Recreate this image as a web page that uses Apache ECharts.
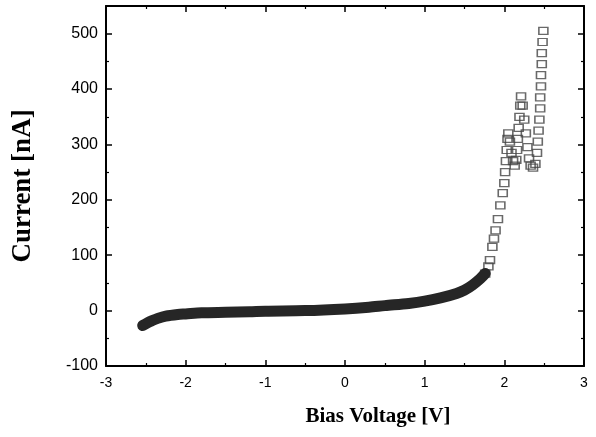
<!DOCTYPE html>
<html>
<head>
<meta charset="utf-8">
<script src="https://cdn.jsdelivr.net/npm/echarts@6/dist/echarts.min.js"></script>
<style>
html,body{margin:0;padding:0;background:#fff;}
#c{width:596px;height:437px;}
</style>
</head>
<body>
<div id="c"></div>
<script>
// Low-bias band (dense overlapping markers) : voltage [V], current [nA]
const bandV = [-2.54, -2.48, -2.42, -2.35, -2.25, -2.1, -2.0, -1.8, -1.5, -1.2, -1.0, -0.5, 0.0, 0.3, 0.5, 0.8, 1.0, 1.2, 1.4, 1.5, 1.6, 1.7, 1.76];
const bandI = [-27, -22, -18, -14, -10, -7, -6, -4, -3, -2, -1, 0, 3, 6, 9, 13, 17, 23, 31, 37, 46, 58, 67];

// High-bias region (individual hollow square markers)
const highV = [1.76, 1.80, 1.82, 1.85, 1.87, 1.89, 1.92, 1.95, 1.98, 2.00, 2.01, 2.02, 2.03, 2.04, 2.05, 2.07, 2.09, 2.11, 2.13, 2.15, 2.16, 2.17, 2.18, 2.19, 2.20, 2.21, 2.23, 2.25, 2.27, 2.29, 2.31, 2.33, 2.36, 2.39, 2.41, 2.42, 2.43, 2.44, 2.45, 2.45, 2.46, 2.46, 2.47, 2.47, 2.48, 2.49];
const highI = [67, 80, 91, 115, 130, 145, 165, 190, 212, 230, 250, 270, 290, 310, 320, 305, 285, 270, 262, 272, 290, 310, 330, 350, 370, 387, 370, 345, 320, 295, 275, 262, 258, 265, 285, 305, 325, 345, 365, 385, 405, 425, 445, 465, 485, 505];

const xTicks = [-3, 3, 1];     // min, max, interval
const yTicks = [-100, 550, 100];

const band = bandV.map((v, i) => [v, bandI[i]]);
const high = highV.map((v, i) => [v, highI[i]]);

const chart = echarts.init(document.getElementById('c'), null, {renderer: 'canvas'});
const axisLine = {show: true, onZero: false, lineStyle: {color: '#000', width: 2}};
const tickIn = {show: true, inside: true, length: 6, lineStyle: {color: '#000', width: 1.5}};
const minorIn = {show: true, splitNumber: 2, length: 3, lineStyle: {color: '#000', width: 1.2}};

chart.setOption({
  animation: false,
  backgroundColor: '#fff',
  grid: {left: 106, right: 12, top: 6, bottom: 71},
  xAxis: [{
    type: 'value', min: xTicks[0], max: xTicks[1], interval: xTicks[2],
    axisLine: axisLine, axisTick: tickIn, minorTick: minorIn,
    splitLine: {show: false},
    axisLabel: {color: '#000', fontSize: 14, fontFamily: 'Liberation Sans, Arial', margin: 10},
    name: 'Bias Voltage [V]', nameLocation: 'middle', nameGap: 40,
    nameTextStyle: {fontFamily: 'Liberation Serif, Times New Roman', fontWeight: 'bold', fontSize: 21, color: '#000', padding: [0, 0, 0, 66]}
  }, {
    type: 'value', position: 'top', min: xTicks[0], max: xTicks[1], interval: xTicks[2],
    axisLine: axisLine, axisTick: tickIn, minorTick: minorIn,
    splitLine: {show: false}, axisLabel: {show: false}
  }],
  yAxis: [{
    type: 'value', min: yTicks[0], max: yTicks[1], interval: yTicks[2],
    axisLine: axisLine, axisTick: tickIn, minorTick: minorIn,
    splitLine: {show: false},
    axisLabel: {color: '#000', fontSize: 16, fontFamily: 'Liberation Sans, Arial', margin: 8, showMaxLabel: false,
      formatter: v => (v > 500 ? '' : String(v))},
    name: 'Current [nA]', nameLocation: 'middle', nameGap: 69,
    nameTextStyle: {fontFamily: 'Liberation Serif, Times New Roman', fontWeight: 'bold', fontSize: 27, color: '#000'}
  }, {
    type: 'value', position: 'right', min: yTicks[0], max: yTicks[1], interval: yTicks[2],
    axisLine: axisLine, axisTick: tickIn, minorTick: minorIn,
    splitLine: {show: false}, axisLabel: {show: false}
  }],
  series: [{
    type: 'line', data: band, showSymbol: false, smooth: 0.3,
    lineStyle: {color: '#262626', width: 11, cap: 'round', join: 'round'},
    xAxisIndex: 0, yAxisIndex: 0, silent: true
  }, {
    type: 'scatter', data: high, symbol: 'rect', symbolSize: [9, 7],
    itemStyle: {color: 'rgba(255,255,255,0)', borderColor: '#444', borderWidth: 1.4},
    xAxisIndex: 0, yAxisIndex: 0, silent: true
  }]
});
</script>
</body>
</html>
